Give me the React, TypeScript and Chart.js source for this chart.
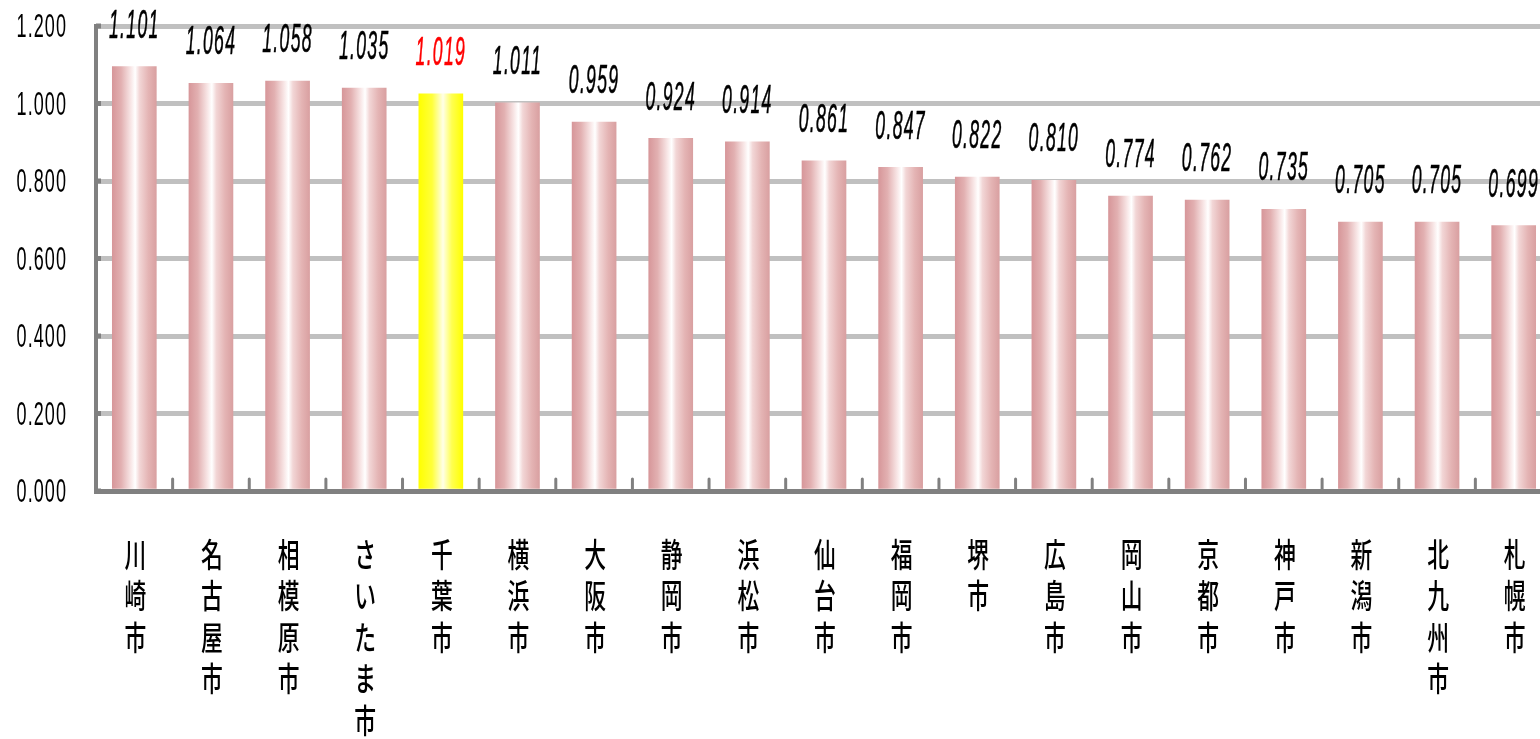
import { useEffect, useRef } from 'react';
import { Chart, registerables } from 'chart.js';

Chart.register(...registerables);

const cities = [
  '川崎市', '名古屋市', '相模原市', 'さいたま市', '千葉市', '横浜市', '大阪市', '静岡市', '浜松市', '仙台市',
  '福岡市', '堺市', '広島市', '岡山市', '京都市', '神戸市', '新潟市', '北九州市', '札幌市',
];
// bar heights as drawn
const barValues = [
  1.095, 1.052, 1.058, 1.040, 1.025, 1.002, 0.952, 0.910, 0.901, 0.852,
  0.835, 0.810, 0.802, 0.761, 0.751, 0.727, 0.694, 0.694, 0.685,
];
// value labels as printed above the bars
const labelValues = [
  1.101, 1.064, 1.058, 1.035, 1.019, 1.011, 0.959, 0.924, 0.914, 0.861,
  0.847, 0.822, 0.810, 0.774, 0.762, 0.735, 0.705, 0.705, 0.699,
];
const yTickValues = [0, 0.2, 0.4, 0.6, 0.8, 1.0, 1.2];
const highlightCity = '千葉市';

const W = 1552;
const H = 739;
const LEFT = 96;
const TOP = 26;
const BOTTOM = 491;
const BAR = 44;

export default function App() {
  const ref = useRef<HTMLCanvasElement>(null);

  useEffect(() => {
    const canvas = ref.current;
    if (!canvas) return;

    const fillFor = (c: any) => {
      const chart = c.chart;
      const xs = chart.scales?.x;
      const i = c.dataIndex;
      const hl = cities[i] === highlightCity;
      const fallback = hl ? '#ffff00' : '#dca4a5';
      if (!xs || i === undefined) return fallback;
      const cx = xs.getPixelForValue(i);
      if (!Number.isFinite(cx)) return fallback;
      const g = chart.ctx.createLinearGradient(cx - BAR / 2, 0, cx + BAR / 2, 0);
      if (hl) {
        g.addColorStop(0, '#ffff00');
        g.addColorStop(0.3, '#ffff3a');
        g.addColorStop(0.55, '#ffffe8');
        g.addColorStop(0.75, '#ffff50');
        g.addColorStop(1, '#ffff00');
      } else {
        g.addColorStop(0, '#d7979a');
        g.addColorStop(0.2, '#e2b0b1');
        g.addColorStop(0.42, '#f8e6e6');
        g.addColorStop(0.52, '#ffffff');
        g.addColorStop(0.62, '#f2d6d6');
        g.addColorStop(0.82, '#e4b4b4');
        g.addColorStop(1, '#d9a0a1');
      }
      return g;
    };

    const textPlugin = {
      id: 'customText',
      afterDatasetsDraw(chart: any) {
        const ctx = chart.ctx;
        const xs = chart.scales.x;
        const ys = chart.scales.y;
        ctx.save();
        ctx.strokeStyle = '#808080';
        ctx.lineCap = 'round';
        ctx.lineWidth = 3;
        for (let i = 0; i < cities.length - 1; i++) {
          const x = (xs.getPixelForValue(i) + xs.getPixelForValue(i + 1)) / 2;
          ctx.beginPath();
          ctx.moveTo(x, BOTTOM - 12);
          ctx.lineTo(x, BOTTOM);
          ctx.stroke();
        }
        ctx.lineWidth = 5;
        ctx.lineCap = 'butt';
        for (const v of yTickValues) {
          const y = ys.getPixelForValue(v);
          ctx.beginPath();
          ctx.moveTo(LEFT, y);
          ctx.lineTo(LEFT + 5, y);
          ctx.stroke();
        }
        ctx.restore();
      },
      afterDraw(chart: any) {
        const ctx = chart.ctx;
        const xs = chart.scales.x;
        const ys = chart.scales.y;
        ctx.save();
        // y tick labels
        ctx.fillStyle = '#000';
        ctx.textBaseline = 'middle';
        ctx.textAlign = 'right';
        ctx.font = '34px "Liberation Sans", Arial, sans-serif';
        (ctx as any).letterSpacing = '2px';
        for (const v of yTickValues) {
          const y = ys.getPixelForValue(v) + 2;
          ctx.save();
          ctx.translate(67, y);
          ctx.scale(0.53, 1);
          ctx.fillText(v.toFixed(3), 0, 0);
          ctx.restore();
        }
        // value labels
        ctx.textAlign = 'center';
        ctx.font = 'italic 40px "Liberation Sans", Arial, sans-serif';
        (ctx as any).letterSpacing = '3px';
        ctx.lineWidth = 0.6;
        labelValues.forEach((v, i) => {
          const x = xs.getPixelForValue(i);
          const y = ys.getPixelForValue(barValues[i]) - 40;
          const col = cities[i] === highlightCity ? '#ff0000' : '#000000';
          ctx.save();
          ctx.fillStyle = col;
          ctx.strokeStyle = col;
          ctx.translate(x, y);
          ctx.scale(0.44, 1);
          ctx.fillText(v.toFixed(3), 0, 0);
          ctx.strokeText(v.toFixed(3), 0, 0);
          ctx.restore();
        });
        // vertical category labels
        (ctx as any).letterSpacing = '0px';
        ctx.fillStyle = '#000';
        ctx.font = '500 33px "Noto Sans CJK JP", sans-serif';
        cities.forEach((name, i) => {
          const x = xs.getPixelForValue(i);
          Array.from(name).forEach((ch, k) => {
            ctx.save();
            ctx.translate(x + 1, 554 + k * 41.5);
            ctx.scale(0.66, 1);
            ctx.fillText(ch, 0, 0);
            ctx.restore();
          });
        });
        ctx.restore();
      },
    };

    const chart = new Chart(canvas, {
      type: 'bar',
      data: {
        labels: cities,
        datasets: [
          {
            data: barValues,
            backgroundColor: fillFor as any,
            borderWidth: 0,
            barThickness: BAR,
          },
        ],
      },
      options: {
        animation: false,
        responsive: false,
        devicePixelRatio: 1,
        layout: { padding: { top: TOP, left: 0, right: 0, bottom: 0 } },
        plugins: { legend: { display: false }, tooltip: { enabled: false } },
        scales: {
          x: {
            grid: { display: false },
            ticks: { display: false },
            border: { display: true, color: '#808080', width: 5, z: 1 } as any,
            afterFit: (s: any) => {
              s.height = H - BOTTOM;
            },
          },
          y: {
            min: 0,
            max: 1.2,
            ticks: { display: false, stepSize: 0.2 },
            grid: { color: '#c0c0c0', lineWidth: 5, drawTicks: false },
            border: { display: true, color: '#808080', width: 4, z: 1 } as any,
            afterFit: (s: any) => {
              s.width = LEFT;
            },
          },
        },
      },
      plugins: [textPlugin],
    });
    return () => chart.destroy();
  }, []);

  return (
    <div
      style={{
        position: 'fixed',
        left: 0,
        top: 0,
        width: 1540,
        height: 739,
        overflow: 'hidden',
        background: '#ffffff',
      }}
    >
      <canvas ref={ref} width={W} height={H} style={{ display: 'block', width: W, height: H }} />
    </div>
  );
}
